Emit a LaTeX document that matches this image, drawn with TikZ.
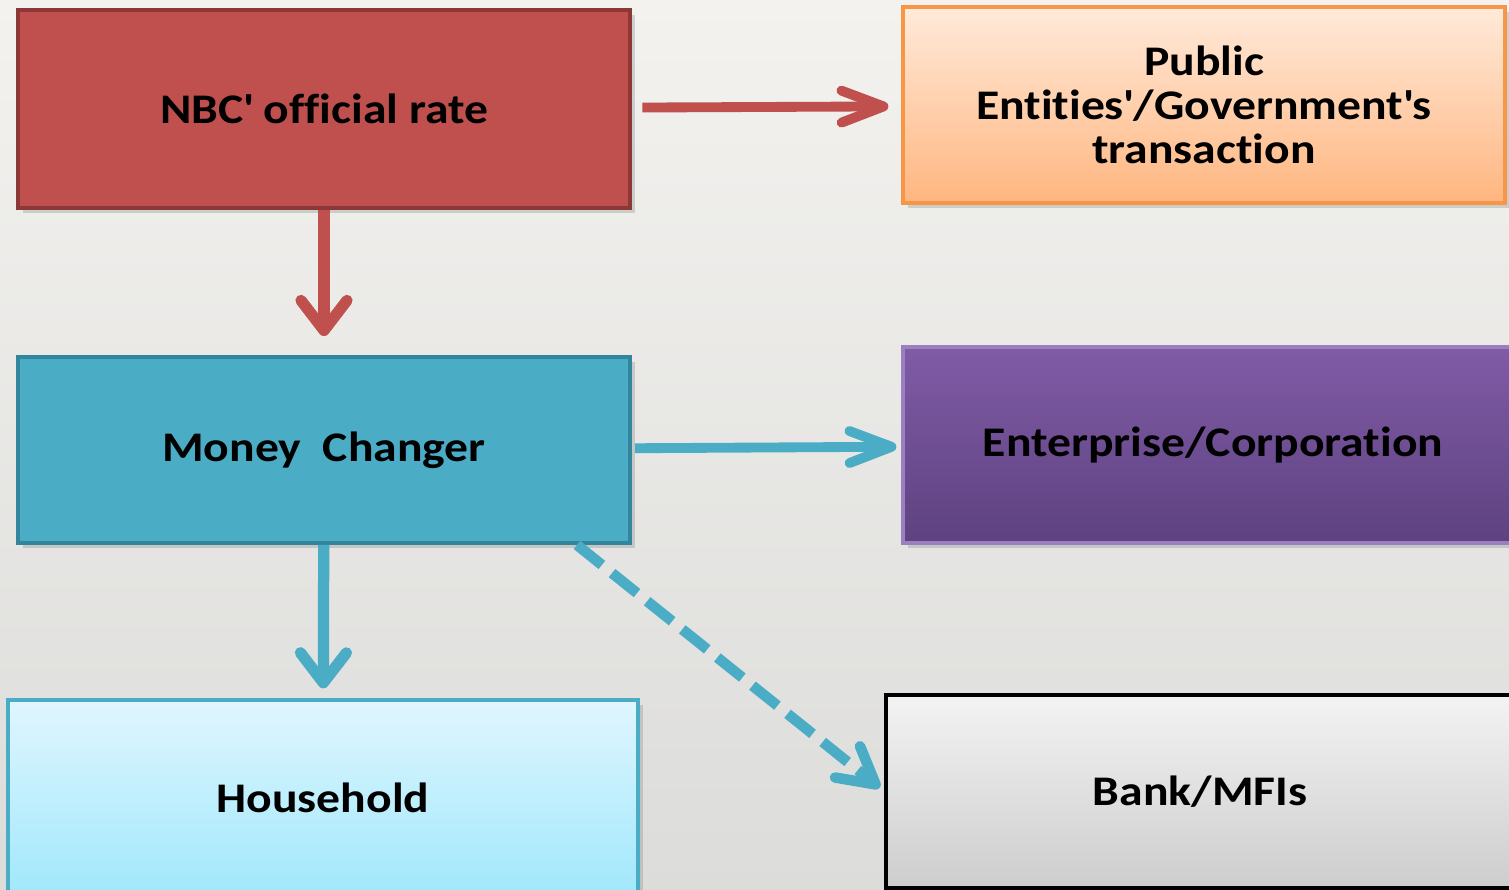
\documentclass[tikz,border=0pt]{standalone}
\usepackage{fontspec}
\setmainfont{Carlito}[FakeStretch=1.13, Ligatures=NoCommon]
\usepackage{tikz}
\usetikzlibrary{arrows.meta,positioning,shadows,calc}
\definecolor{rate-red}{RGB}{192,80,77}
\definecolor{rate-redline}{RGB}{140,56,54}
\definecolor{changer-teal}{RGB}{75,172,198}
\definecolor{changer-tealline}{RGB}{49,133,156}
\definecolor{public-top}{RGB}{255,234,218}
\definecolor{public-bot}{RGB}{255,182,128}
\definecolor{public-line}{RGB}{247,150,70}
\definecolor{corp-top}{RGB}{128,91,166}
\definecolor{corp-bot}{RGB}{94,66,128}
\definecolor{corp-line}{RGB}{155,127,192}
\definecolor{house-top}{RGB}{224,246,254}
\definecolor{house-bot}{RGB}{160,232,252}
\definecolor{bank-top}{RGB}{243,243,243}
\definecolor{bank-bot}{RGB}{205,205,205}
\definecolor{note-light}{RGB}{243,242,239}
\definecolor{note-dark}{RGB}{220,220,218}
\newcommand{\tick}{\textquotesingle}

\begin{document}
\begin{tikzpicture}[
  every node/.style={font=\fontsize{12}{12.6}\selectfont\bfseries},
  box/.style={rectangle, align=center, inner sep=0pt,
    drop shadow={opacity=0.3, shadow xshift=0.05cm, shadow yshift=-0.05cm}},
  hflow/.style={line width=2.8pt, -{Straight Barb[length=4.2mm,width=3.2mm,round]}},
  vflow/.style={line width=3.2pt, -{Straight Barb[length=3mm,width=4.6mm,round]}},
  dflow/.style={line width=3pt, dash pattern=on 3.2mm off 1.3mm,
    -{Straight Barb[length=3.6mm,width=4mm,round]}}
]
  % paper background
  \shade[top color=note-light, bottom color=note-dark] (0,0) rectangle (15.09,8.90);
  \useasboundingbox (0,0) rectangle (15.09,8.90);

  % top row
  \node[box, fill=rate-red, draw=rate-redline, line width=1.4pt,
    minimum width=6.12cm, minimum height=1.98cm] (rate) at (3.24,7.81) {NBC\tick{} official rate};
  \node[box, top color=public-top, bottom color=public-bot, draw=public-line, line width=0.9pt,
    minimum width=6.02cm, minimum height=1.96cm] (public) at (12.04,7.85)
    {Public\\Entities\tick/Government\tick s\\transaction};

  % middle row
  \node[box, fill=changer-teal, draw=changer-tealline, line width=1.1pt,
    minimum width=6.12cm, minimum height=1.86cm] (changer) at (3.24,4.40) {Money\ \ Changer};
  \node[box, top color=corp-top, bottom color=corp-bot, draw=corp-line, line width=0.9pt,
    minimum width=6.2cm, minimum height=1.96cm] (corp) at (12.13,4.45) {Enterprise/Corporation};

  % bottom row
  \node[box, top color=house-top, bottom color=house-bot, draw=changer-teal, line width=0.9pt,
    minimum width=6.3cm, minimum height=1.96cm] (house) at (3.23,0.92) {Household};
  \node[box, top color=bank-top, bottom color=bank-bot, draw=black, line width=0.9pt,
    minimum width=6.28cm, minimum height=1.93cm] (bank) at (12.0,0.985) {Bank/MFIs};

  % flows
  \draw[hflow, rate-red, shorten <=0.1cm, shorten >=0.13cm] (rate) -- (public);
  \draw[vflow, rate-red, shorten >=0.19cm] (rate) -- (changer);
  \draw[hflow, changer-teal, shorten <=0.03cm, shorten >=0.05cm] (changer) -- (corp);
  \draw[vflow, changer-teal, shorten >=0.1cm] (changer) -- (house);
  \draw[dflow, changer-teal, shorten >=0.06cm] ([xshift=-0.55cm]changer.south east) -- (bank.west);
\end{tikzpicture}
\end{document}
